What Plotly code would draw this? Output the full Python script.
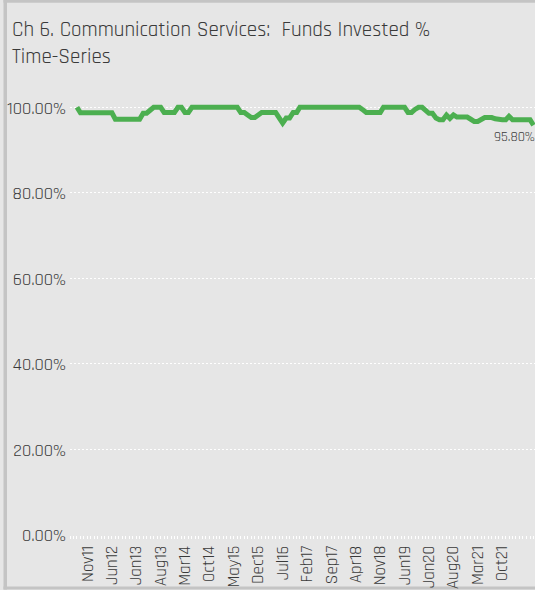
import plotly.graph_objects as go
import pandas as pd

# ---- data ----
start_month = "2011-11-01"
n_months = 132
funds_invested = (
    [1.000] + [0.987] * 10 + [0.972] * 8 +
    [0.986, 0.986, 0.993, 1.000, 1.000, 1.000] +
    [0.988] * 4 + [1.000, 1.000] + [0.988, 0.988] +
    [1.000] * 14 + [0.988, 0.988] + [0.982, 0.976, 0.976] + [0.982] +
    [0.988] * 5 + [0.975, 0.963] + [0.975, 0.975] + [0.988, 0.988] +
    [1.000] * 18 + [0.994] + [0.988] * 5 + [1.000] * 7 +
    [0.988, 0.988] + [0.995] + [1.000, 1.000] + [0.992] + [0.986, 0.986] +
    [0.975, 0.971, 0.971] + [0.982, 0.974, 0.982] + [0.977] * 4 +
    [0.972, 0.967, 0.967] + [0.972] + [0.976] * 3 + [0.973] +
    [0.971] * 3 + [0.979] + [0.971] * 6 + [0.958]
)
tick_labels = ["Nov11", "Jun12", "Jan13", "Aug13", "Mar14", "Oct14", "May15",
               "Dec15", "Jul16", "Feb17", "Sep17", "Apr18", "Nov18", "Jun19",
               "Jan20", "Aug20", "Mar21", "Oct21"]
y_ticks = [0, 0.2, 0.4, 0.6, 0.8, 1.0]
last_label = "95.80%"

months = pd.date_range(start_month, periods=n_months, freq="MS")
tick_dates = [months[i * 7] for i in range(len(tick_labels))]

TXT = "#3a3a3a"
BG = "#e6e6e6"
FONT = "Rajdhani, 'Liberation Sans Narrow', Roboto, sans-serif"

fig = go.Figure()
fig.add_trace(go.Scatter(
    x=months, y=funds_invested, mode="lines",
    line=dict(color="#4caf50", width=5),
    hoverinfo="skip", showlegend=False, cliponaxis=False,
))

fig.add_annotation(
    x=months[-1], y=funds_invested[-1], text=last_label,
    showarrow=False, xanchor="right", yanchor="middle", yshift=-12, xshift=3,
    font=dict(size=14, color=TXT, family=FONT),
)

# plot area geometry (px)
L, R, T, B = 70, 535, 103.2, 535.5
W, H = R - L, B - T


def px(x):
    return (x - L) / W


def py(y):
    return (B - y) / H


border = "#c4c4c4"
fig.add_shape(type="rect", xref="paper", yref="paper", x0=px(3.5), x1=px(7),
              y0=py(590), y1=py(0), fillcolor=border, line_width=0, layer="below")
fig.add_shape(type="rect", xref="paper", yref="paper", x0=px(3.5), x1=px(540),
              y0=py(3), y1=py(0), fillcolor=border, line_width=0, layer="below")
fig.add_shape(type="rect", xref="paper", yref="paper", x0=px(3.5), x1=px(540),
              y0=py(590), y1=py(587), fillcolor=border, line_width=0, layer="below")

fig.update_layout(
    width=535, height=590,
    margin=dict(l=L, r=0, t=T, b=590 - B, pad=0),
    paper_bgcolor=BG, plot_bgcolor=BG,
    font=dict(family=FONT, color=TXT, size=17),
    title=dict(
        text="Ch 6. Communication Services:\u00a0 Funds Invested %<br>Time-Series",
        xref="container", yref="container", x=12 / 535, xanchor="left",
        y=1 - 36 / 590, yanchor="top",
        font=dict(size=21, color=TXT, family=FONT),
    ),
    xaxis=dict(
        type="date",
        range=["2011-09-01", "2022-10-14"],
        tickmode="array", tickvals=tick_dates, ticktext=tick_labels,
        tickangle=-90, ticklabelshift=10,
        ticks="outside", ticklen=3, tickcolor="white", tickwidth=1,
        minor=dict(dtick="M1", tick0=start_month, ticks="outside", ticklen=3,
                   tickcolor="white", tickwidth=1, showgrid=False),
        showgrid=False, zeroline=False, showline=False,
        tickfont=dict(size=17, color=TXT),
        fixedrange=True,
    ),
    yaxis=dict(
        range=[0, 1.01], tickvals=y_ticks, tickformat=".2%",
        showgrid=True, gridcolor="white", gridwidth=1, griddash="2px,2px",
        zeroline=False, showline=False, ticks="", ticklabelstandoff=3,
        tickfont=dict(size=18, color=TXT),
        fixedrange=True,
    ),
)

fig.write_html("out.html")
